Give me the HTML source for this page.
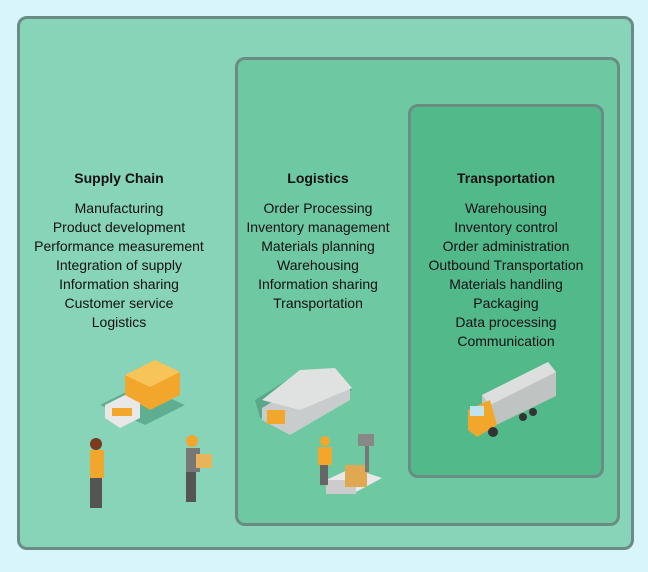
<!DOCTYPE html>
<html><head><style>
body{margin:0;width:648px;height:572px;background:#d7f5fb;position:relative;overflow:hidden;font-family:"Liberation Sans",sans-serif;color:#111}
.b{position:absolute;border:3px solid #6b8c84;border-radius:10px;box-sizing:border-box}
.t{position:absolute;text-align:center;font-size:14px;line-height:19px;width:220px}
.t b{display:block;font-size:14px;margin-bottom:11px}
</style></head><body>
<div class="b" style="left:17px;top:16px;width:617px;height:534px;background:#87d4b8"></div>
<div class="b" style="left:235px;top:57px;width:385px;height:469px;background:#6ec9a2"></div>
<div class="b" style="left:408px;top:104px;width:196px;height:374px;background:#52b98b"></div>
<div class="t" style="left:9px;top:169px"><b>Supply Chain</b>Manufacturing<br>Product development<br>Performance measurement<br>Integration of supply<br>Information sharing<br>Customer service<br>Logistics</div>
<div class="t" style="left:208px;top:169px"><b>Logistics</b>Order Processing<br>Inventory management<br>Materials planning<br>Warehousing<br>Information sharing<br>Transportation</div>
<div class="t" style="left:396px;top:169px"><b>Transportation</b>Warehousing<br>Inventory control<br>Order administration<br>Outbound Transportation<br>Materials handling<br>Packaging<br>Data processing<br>Communication</div>
<svg width="648" height="572" style="position:absolute;left:0;top:0">
<!-- factory -->
<polygon points="100,405 140,385 185,405 145,425" fill="#5fae92"/>
<polygon points="125,375 155,360 180,372 180,395 150,410 125,395" fill="#f2a72c"/>
<polygon points="125,375 155,360 180,372 150,387" fill="#f7c45a"/>
<polygon points="105,405 125,395 140,403 140,418 120,428 105,418" fill="#e8e8e8"/>
<rect x="112" y="408" width="20" height="8" fill="#f2a72c"/>
<!-- people -->
<rect x="90" y="450" width="14" height="28" fill="#f2a72c"/><rect x="90" y="478" width="12" height="30" fill="#555"/><circle cx="96" cy="444" r="6" fill="#7a3b1e"/>
<rect x="186" y="448" width="14" height="24" fill="#777"/><rect x="186" y="472" width="10" height="30" fill="#555"/><circle cx="192" cy="441" r="6" fill="#f2a72c"/><rect x="196" y="454" width="16" height="14" fill="#e8b45a"/>
<!-- warehouse -->
<polygon points="255,400 300,372 335,370 352,390 305,420 260,418" fill="#5aa88a"/>
<polygon points="262,408 300,385 350,388 350,400 290,435 262,420" fill="#c8cccc"/>
<polygon points="262,400 300,370 335,368 352,388 300,410" fill="#dfe2e1"/>
<rect x="267" y="410" width="18" height="14" fill="#f2a72c"/>
<!-- cart -->
<polygon points="326,480 352,468 382,478 356,492" fill="#e8e8e8"/><rect x="326" y="480" width="30" height="14" fill="#ccc"/>
<rect x="345" y="465" width="22" height="22" fill="#e0a850"/><rect x="365" y="440" width="4" height="32" fill="#777"/><rect x="358" y="434" width="16" height="12" fill="#888"/>
<rect x="318" y="447" width="14" height="18" fill="#f2a72c"/><rect x="320" y="465" width="8" height="20" fill="#666"/><circle cx="325" cy="441" r="5" fill="#f2a72c"/>
<!-- truck -->
<polygon points="482,395 548,362 556,372 556,396 490,428 482,420" fill="#bfc3c2"/>
<polygon points="482,395 548,362 556,372 490,405" fill="#dcdfde"/>
<polygon points="468,410 490,400 497,425 477,437 468,430" fill="#f2a72c"/>
<rect x="470" y="406" width="14" height="10" fill="#bfe3ef"/>
<circle cx="493" cy="432" r="5" fill="#333"/><circle cx="523" cy="417" r="4" fill="#333"/><circle cx="533" cy="412" r="4" fill="#333"/>
</svg>
</body></html>
